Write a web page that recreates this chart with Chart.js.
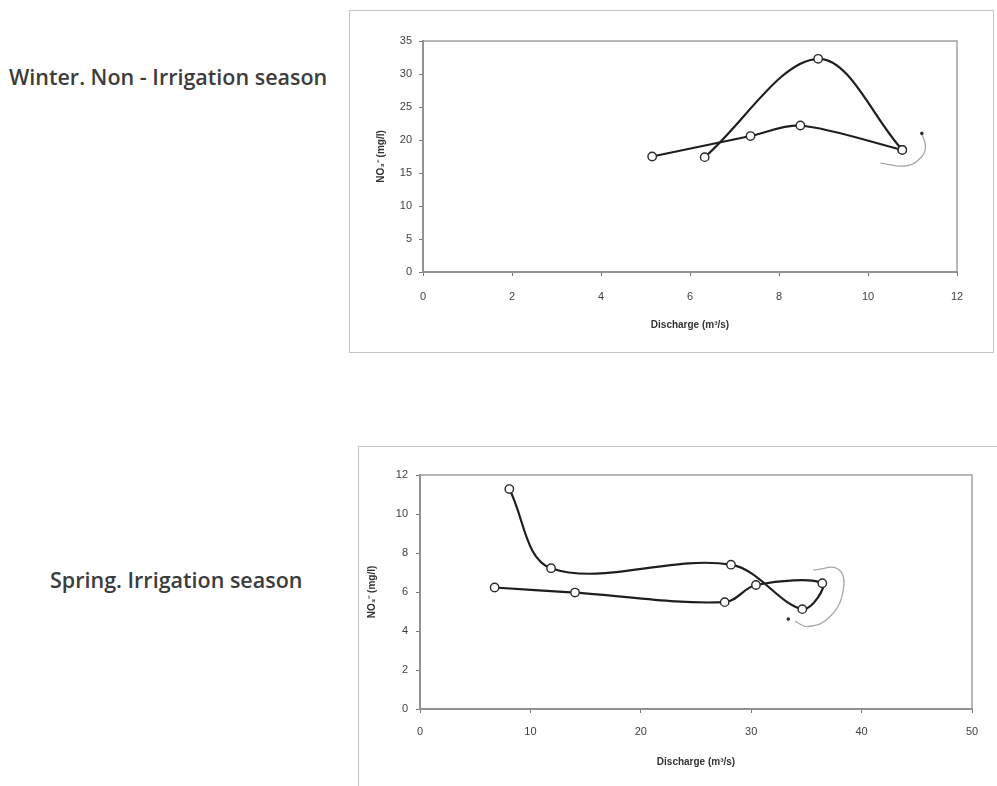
<!DOCTYPE html>
<html>
<head>
<meta charset="utf-8">
<script src="https://cdn.jsdelivr.net/npm/chart.js@4.4.1/dist/chart.umd.min.js"></script>
<style>
  html, body { margin: 0; padding: 0; background: #fff; width: 997px; height: 786px; overflow: hidden; }
  .frame { position: absolute; box-sizing: border-box; border: 1px solid #c4c4c4; }
  .box { position: absolute; }
  .label { position: absolute; font-family: "Open Sans", "Noto Sans", sans-serif; font-size: 21.5px; font-weight: 600; color: #3c3c3c; white-space: nowrap; line-height: 30px; }
</style>
</head>
<body>
<div class="label" id="lab1" style="left:9px; top:62px;">Winter. Non - Irrigation season</div>
<div class="label" id="lab2" style="left:50px; top:565px;">Spring. Irrigation season</div>

<div class="frame" style="left:349px; top:10px; width:645px; height:343px;"></div>
<div class="box" style="left:349px; top:10px; width:644px; height:342px;"><canvas id="c1" width="644" height="342"></canvas></div>

<div class="frame" style="left:358px; top:446px; width:645px; height:345px;"></div>
<div class="box" style="left:358px; top:446px; width:639px; height:340px;"><canvas id="c2" width="639" height="340"></canvas></div>

<script>
// ---- Winter (non-irrigation season) ----
const winterXTicks = [0, 2, 4, 6, 8, 10, 12];
const winterYTicks = [0, 5, 10, 15, 20, 25, 30, 35];
const winterLimbAQ   = [5.15, 7.36, 8.48, 10.77];
const winterLimbANO3 = [17.5, 20.6, 22.2, 18.5];
const winterLimbBQ   = [10.77, 8.88, 6.33];
const winterLimbBNO3 = [18.5, 32.3, 17.4];
const winterArrowQ   = [10.28, 10.87, 11.21, 11.29, 11.21];
const winterArrowNO3 = [16.5, 16.1, 17.5, 19.0, 21.0];

// ---- Spring (irrigation season) ----
const springXTicks = [0, 10, 20, 30, 40, 50];
const springYTicks = [0, 2, 4, 6, 8, 10, 12];
const springQ   = [6.76, 14.04, 27.6, 30.43, 36.44, 34.63, 28.17, 11.87, 8.09];
const springNO3 = [6.23, 5.97, 5.48, 6.36, 6.45, 5.12, 7.40, 7.22, 11.28];
const springArrowQ   = [35.62, 37.89, 38.34, 37.14, 35.17, 33.97];
const springArrowNO3 = [7.13, 7.17, 6.11, 4.74, 4.23, 4.49];
const springArrowHeadQ = [33.36];
const springArrowHeadNO3 = [4.61];

const xTitle = 'Discharge (m\u00B3/s)';
const yTitle = 'NO\u2083\u207B (mg/l)';

function pts(xs, ys) { return xs.map((x, i) => ({ x: x, y: ys[i] })); }

function seriesDs(xs, ys, tension) {
  return {
    data: pts(xs, ys), showLine: true, tension: tension,
    borderColor: '#1e1e1e', borderWidth: 2.2,
    pointRadius: 4.2, pointBackgroundColor: '#ffffff', pointBorderColor: '#2a2a2a', pointBorderWidth: 1.4,
    order: 1
  };
}
function arrowDs(xs, ys, headLast) {
  return {
    data: pts(xs, ys), showLine: true, tension: 0.45,
    borderColor: '#a8a8a8', borderWidth: 1.3,
    pointRadius: xs.map((_, i) => (headLast && i === xs.length - 1) ? 1.8 : 0),
    pointBackgroundColor: '#333', pointBorderColor: '#333', pointBorderWidth: 0,
    order: 2
  };
}
function dotDs(xs, ys) {
  return {
    data: pts(xs, ys), showLine: false,
    pointRadius: 1.8, pointBackgroundColor: '#333', pointBorderColor: '#333', pointBorderWidth: 0,
    order: 2
  };
}

const boxPlugin = {
  id: 'plotBox',
  beforeDatasetsDraw(chart) {
    const a = chart.chartArea, ctx = chart.ctx;
    ctx.save();
    ctx.strokeStyle = '#a0a0a0';
    ctx.lineWidth = 1.5;
    ctx.strokeRect(a.left, a.top, a.right - a.left, a.bottom - a.top);
    ctx.restore();
  }
};

function makeChart(id, datasets, xt, yt, L) {
  const tickFont = { family: 'Arial, "Liberation Sans", sans-serif', size: 11 };
  const titleFont = { family: 'Arial, "Liberation Sans", sans-serif', size: 10, weight: 'bold' };
  return new Chart(document.getElementById(id), {
    type: 'scatter',
    data: { datasets: datasets },
    plugins: [boxPlugin],
    options: {
      responsive: false, animation: false, events: [],
      layout: { padding: { top: L.padTop, right: L.padRight, left: 0, bottom: 0 } },
      plugins: { legend: { display: false }, tooltip: { enabled: false } },
      scales: {
        x: {
          type: 'linear', min: xt[0], max: xt[xt.length - 1],
          afterBuildTicks: s => { s.ticks = xt.map(v => ({ value: v })); },
          afterFit: s => { s.height = L.xHeight; },
          ticks: { font: tickFont, color: '#3f3f3f', padding: L.xTickPad, maxRotation: 0, autoSkip: false },
          grid: { drawOnChartArea: false, drawTicks: true, tickLength: 4, color: '#777' },
          border: { display: true, color: '#6a6a6a', width: 2 },
          title: { display: true, text: xTitle, font: titleFont, color: '#333', padding: { top: 0, bottom: L.xTitlePad } }
        },
        y: {
          type: 'linear', min: yt[0], max: yt[yt.length - 1],
          afterBuildTicks: s => { s.ticks = yt.map(v => ({ value: v })); },
          afterFit: s => { s.width = L.yWidth; },
          ticks: { font: tickFont, color: '#3f3f3f', padding: L.yTickPad, autoSkip: false },
          grid: { drawOnChartArea: false, drawTicks: true, tickLength: 4, color: '#777' },
          border: { display: true, color: '#6a6a6a', width: 2 },
          title: { display: true, text: yTitle, font: titleFont, color: '#333', padding: { top: L.yTitlePad, bottom: 0 } }
        }
      }
    }
  });
}

makeChart('c1', [
  seriesDs(winterLimbAQ, winterLimbANO3, 0.3),
  seriesDs(winterLimbBQ, winterLimbBNO3, 0.35),
  arrowDs(winterArrowQ, winterArrowNO3, true)
], winterXTicks, winterYTicks,
  { padTop: 31, padRight: 36, xHeight: 80, yWidth: 74, xTickPad: 14, yTickPad: 7, xTitlePad: 21, yTitlePad: 26 });

makeChart('c2', [
  seriesDs(springQ, springNO3, 0.35),
  arrowDs(springArrowQ, springArrowNO3, false),
  dotDs(springArrowHeadQ, springArrowHeadNO3)
], springXTicks, springYTicks,
  { padTop: 29, padRight: 25, xHeight: 77, yWidth: 62, xTickPad: 12, yTickPad: 8, xTitlePad: 18, yTitlePad: 8 });
</script>
</body>
</html>
